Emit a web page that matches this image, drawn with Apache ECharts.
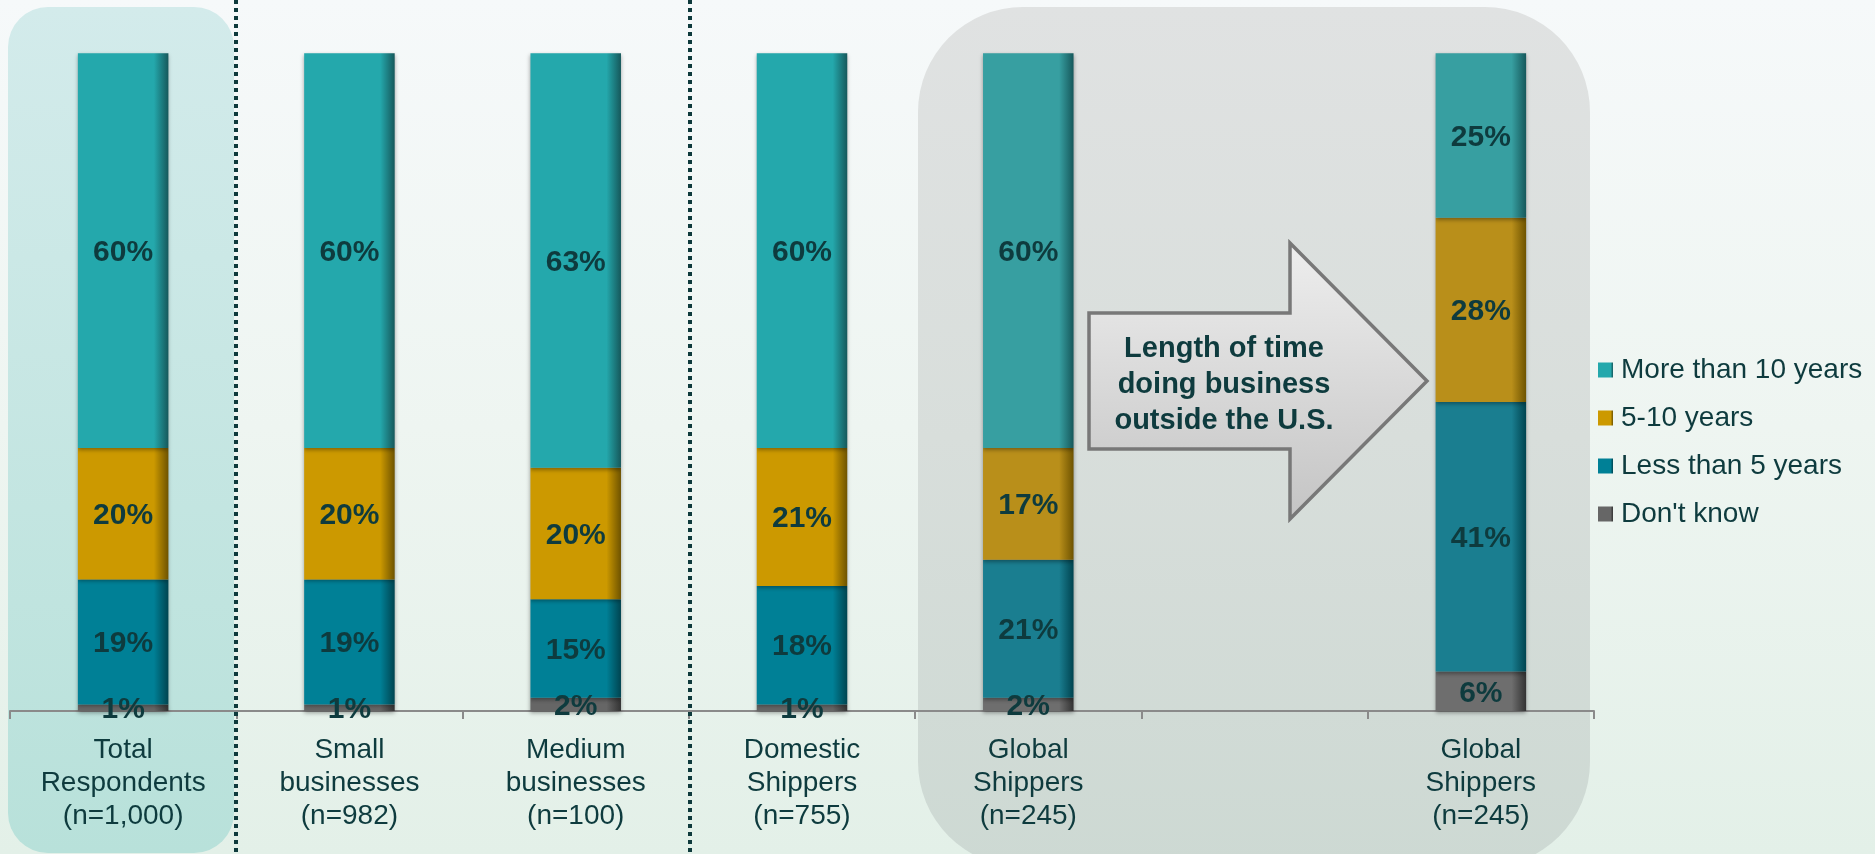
<!DOCTYPE html>
<html>
<head>
<meta charset="utf-8">
<script src="https://cdn.jsdelivr.net/npm/echarts@6/dist/echarts.min.js"></script>
<style>
  html, body { margin: 0; padding: 0; }
  #chart { width: 1875px; height: 854px; }
</style>
</head>
<body>
<div id="chart"></div>
<script>
// Survey groups along the x axis (one empty slot before the re-split global bar)
const categories = [
  'Total\nRespondents\n(n=1,000)',
  'Small\nbusinesses\n(n=982)',
  'Medium\nbusinesses\n(n=100)',
  'Domestic\nShippers\n(n=755)',
  'Global\nShippers\n(n=245)',
  '',
  'Global\nShippers\n(n=245)'
];

// Share of respondents (%) by years in business
const moreThan10 = [60, 60, 63, 60, 60, '-', 25];
const fiveToTen  = [20, 20, 20, 21, 17, '-', 28];
const lessThan5  = [19, 19, 15, 18, 21, '-', 41];
const dontKnow   = [1, 1, 2, 1, 2, '-', 6];

const seriesNames = ['More than 10 years', '5-10 years', 'Less than 5 years', "Don't know"];

// Columns that sit on the grey "global shippers" panel get muted colours
const mutedColumns = [4, 6];

const baseColors  = ['#24a8ac', '#cc9900', '#008096', '#666666'];
const mutedColors = ['#379fa1', '#b98f1a', '#1a7e90', '#6e6e6e'];
const edgeColors  = ['#16585b', '#6e5300', '#004450', '#333333'];

const textColor = '#0e3b3e';
const font = "'Liberation Sans', Arial, sans-serif";

function barFill(main, edge) {
  return new echarts.graphic.LinearGradient(0, 0, 1, 0, [
    { offset: 0, color: main },
    { offset: 0.84, color: main },
    { offset: 1, color: edge }
  ]);
}

function buildData(values, k) {
  return values.map((v, i) => {
    if (mutedColumns.indexOf(i) >= 0 && v !== '-') {
      return { value: v, itemStyle: { color: barFill(mutedColors[k], edgeColors[k]) } };
    }
    return v;
  });
}

// stacked bottom-up: don't know, <5, 5-10, >10
const stackOrder = [
  { k: 3, values: dontKnow },
  { k: 2, values: lessThan5 },
  { k: 1, values: fiveToTen },
  { k: 0, values: moreThan10 }
];

const series = stackOrder.map(s => ({
  name: seriesNames[s.k],
  type: 'bar',
  stack: 'total',
  barWidth: '40%',
  data: buildData(s.values, s.k),
  itemStyle: {
    color: barFill(baseColors[s.k], edgeColors[s.k]),
    shadowColor: 'rgba(0,0,0,0.35)',
    shadowBlur: 4,
    shadowOffsetY: 2
  },
  label: {
    show: true,
    position: 'inside',
    formatter: '{c}%',
    color: textColor,
    fontFamily: font,
    fontWeight: 'bold',
    fontSize: 30,
    offset: [0, 2]
  },
  emphasis: { disabled: true }
}));

const W = 1875, H = 854;

const chart = echarts.init(document.getElementById('chart'), null, { renderer: 'canvas' });

chart.setOption({
  animation: false,
  grid: { left: 10, right: 281, top: 53.3, bottom: 143, containLabel: false },
  xAxis: {
    type: 'category',
    data: categories,
    boundaryGap: true,
    axisLine: { lineStyle: { color: '#8a8a8a', width: 2 } },
    axisTick: { show: true, length: 8, lineStyle: { color: '#8a8a8a', width: 2 } },
    axisLabel: {
      color: textColor,
      fontFamily: font,
      fontSize: 28,
      lineHeight: 33,
      margin: 23,
      interval: 0
    }
  },
  yAxis: {
    type: 'value',
    min: 0,
    max: 100,
    show: false
  },
  legend: {
    orient: 'vertical',
    left: 1598,
    top: 355,
    padding: 0,
    itemWidth: 15,
    itemHeight: 15,
    itemGap: 18,
    icon: 'rect',
    data: seriesNames,
    itemStyle: { shadowBlur: 0, shadowOffsetY: 0 },
    textStyle: {
      color: textColor,
      fontFamily: font,
      fontSize: 28,
      lineHeight: 30,
      padding: [0, 0, 0, 3]
    }
  },
  graphic: [
    // page background
    {
      type: 'rect', z: -20, silent: true,
      shape: { x: 0, y: 0, width: W, height: H },
      style: {
        fill: new echarts.graphic.LinearGradient(0, 0, 0, 1, [
          { offset: 0, color: '#f6f9fa' },
          { offset: 0.5, color: '#eef5f1' },
          { offset: 1, color: '#e3f0e8' }
        ])
      }
    },
    // highlight behind the total column
    {
      type: 'rect', z: -10, silent: true,
      shape: { x: 8, y: 7, width: 226, height: 846, r: 40 },
      style: {
        fill: new echarts.graphic.LinearGradient(0, 0, 0, 1, [
          { offset: 0, color: '#d3ebeb' },
          { offset: 1, color: '#b8e1da' }
        ])
      }
    },
    // grey panel behind the global shippers columns
    {
      type: 'rect', z: -10, silent: true,
      shape: { x: 918, y: 7, width: 672, height: 860, r: 105 },
      style: {
        fill: new echarts.graphic.LinearGradient(0, 0, 0, 1, [
          { offset: 0, color: '#e0e2e2' },
          { offset: 0.5, color: '#d8dedb' },
          { offset: 1, color: '#cdd9d3' }
        ])
      }
    },
    // dotted group separators
    {
      type: 'line', z: 5, silent: true,
      shape: { x1: 236, y1: 0, x2: 236, y2: H },
      style: { stroke: '#0e3a3c', lineWidth: 4, lineDash: [4, 4] }
    },
    {
      type: 'line', z: 5, silent: true,
      shape: { x1: 690, y1: 0, x2: 690, y2: H },
      style: { stroke: '#0e3a3c', lineWidth: 4, lineDash: [4, 4] }
    },
    // block arrow callout
    {
      type: 'polygon', z: 10, silent: true,
      shape: {
        points: [
          [1089, 313], [1290, 313], [1290, 243], [1427, 381],
          [1290, 519], [1290, 449], [1089, 449]
        ]
      },
      style: {
        fill: new echarts.graphic.LinearGradient(0, 0, 0, 1, [
          { offset: 0, color: '#eeeeee' },
          { offset: 1, color: '#c4c4c4' }
        ]),
        stroke: '#787878',
        lineWidth: 3.5
      }
    },
    {
      type: 'text', z: 11, silent: true,
      x: 1224, y: 385,
      style: {
        text: 'Length of time\ndoing business\noutside the U.S.',
        align: 'center',
        verticalAlign: 'middle',
        fill: textColor,
        font: 'bold 29px ' + font,
        lineHeight: 36
      }
    }
  ],
  series: series
});
</script>
</body>
</html>
